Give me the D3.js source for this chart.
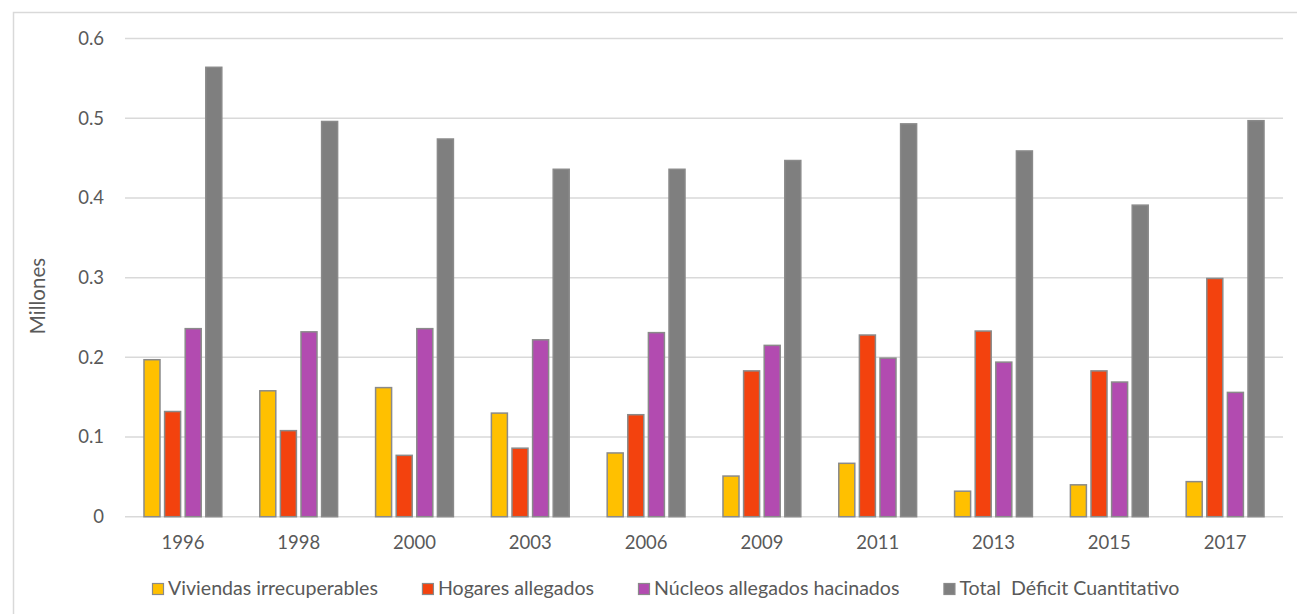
<!DOCTYPE html>
<html>
<head>
<meta charset="utf-8">
<script src="https://cdn.jsdelivr.net/npm/d3@7"></script>
<style>
  html, body { margin: 0; padding: 0; background: #ffffff; }
  svg { display: block; }
  text { font-family: Lato, "Open Sans", sans-serif; fill: #595959; }
</style>
</head>
<body>
<svg id="chart" width="1297" height="614"></svg>
<script>
const years = ["1996", "1998", "2000", "2003", "2006", "2009", "2011", "2013", "2015", "2017"];
const seriesNames = ["Viviendas irrecuperables", "Hogares allegados", "Núcleos allegados hacinados", "Total  Déficit Cuantitativo"];
const viviendas = [0.197, 0.158, 0.162, 0.130, 0.080, 0.051, 0.067, 0.032, 0.040, 0.044];
const hogares   = [0.132, 0.108, 0.077, 0.086, 0.128, 0.183, 0.228, 0.233, 0.183, 0.299];
const nucleos   = [0.236, 0.232, 0.236, 0.222, 0.231, 0.215, 0.199, 0.194, 0.169, 0.156];
const total     = [0.564, 0.496, 0.474, 0.436, 0.436, 0.447, 0.493, 0.459, 0.391, 0.497];
const yTicks = [0, 0.1, 0.2, 0.3, 0.4, 0.5, 0.6];
const colors = ["#FFC000", "#F3420E", "#B24BB0", "#7F7F7F"];
const yTitle = "Millones";

const allSeries = [viviendas, hogares, nucleos, total];
const svg = d3.select("#chart");

// outer chart border
svg.append("rect").attr("x", 13.5).attr("y", 12.5).attr("width", 1320).attr("height", 640)
  .attr("fill", "none").attr("stroke", "#D9D9D9").attr("stroke-width", 1.5);

const pLeft = 125, pRight = 1283, pTop = 38.6, pBottom = 516.7;
const x0 = d3.scaleBand().domain(years).range([pLeft, pRight]).padding(0);
const x1 = d3.scaleBand().domain(d3.range(4)).range([0, x0.bandwidth()]).paddingInner(0.15).paddingOuter(0.885);
const y = d3.scaleLinear().domain([0, 0.6]).range([pBottom, pTop]);

// gridlines
svg.append("g").selectAll("line").data(yTicks).join("line")
  .attr("x1", pLeft).attr("x2", pRight)
  .attr("y1", d => y(d)).attr("y2", d => y(d))
  .attr("stroke", "#D9D9D9").attr("stroke-width", 1.5);

// y axis labels
const yAxis = d3.axisLeft(y).tickValues(yTicks).tickFormat(d => d === 0 ? "0" : d3.format(".1f")(d)).tickSize(0).tickPadding(0);
const gy = svg.append("g").attr("transform", `translate(104,0)`).call(yAxis);
gy.select(".domain").remove();
gy.selectAll("text").attr("font-size", 18.5).attr("fill", "#595959").style("font-family", "Lato");

// x axis labels
const xAxis = d3.axisBottom(x0).tickSize(0).tickPadding(0);
const gx = svg.append("g").attr("transform", `translate(0,${pBottom + 19})`).call(xAxis);
gx.select(".domain").remove();
gx.selectAll("text").attr("font-size", 18.5).attr("fill", "#595959").style("font-family", "Lato");

// bars
const groups = svg.append("g").selectAll("g").data(years).join("g")
  .attr("transform", d => `translate(${x0(d)},0)`);
groups.selectAll("rect").data((d, i) => allSeries.map((s, k) => ({ k, v: s[i] }))).join("rect")
  .attr("x", d => x1(d.k) + 0.75)
  .attr("width", x1.bandwidth() - 1.5)
  .attr("y", d => y(d.v))
  .attr("height", d => y(0) - y(d.v))
  .attr("fill", d => colors[d.k])
  .attr("stroke", "#8A8A8A").attr("stroke-width", 1.5);

// y title
svg.append("text").attr("transform", "translate(45,296) rotate(-90)")
  .attr("text-anchor", "middle").attr("font-size", 20.5).text(yTitle);

// legend
const legend = svg.append("g");
let lx = 152;
seriesNames.forEach((name, k) => {
  const g = legend.append("g").attr("transform", `translate(${lx},0)`);
  g.append("rect").attr("x", 0.5).attr("y", 583.5).attr("width", 11).attr("height", 11)
    .attr("fill", colors[k]).attr("stroke", "#8A8A8A").attr("stroke-width", 1.2);
  const t = g.append("text").attr("x", 16).attr("y", 595).attr("font-size", 19.6)
    .style("white-space", "pre").attr("xml:space", "preserve").text(name);
  const w = t.node().getComputedTextLength();
  lx += 16 + w + 44;
});
</script>
</body>
</html>
